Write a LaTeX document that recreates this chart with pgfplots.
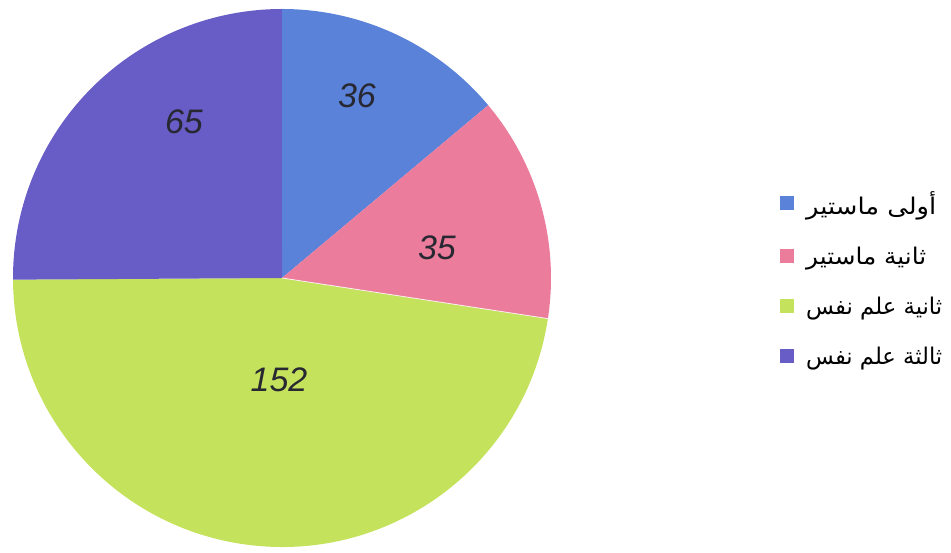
\documentclass[border=0pt]{standalone}
\usepackage{graphicx}
\usepackage{pgfplots}
\pgfplotsset{compat=1.18}
\usepackage{pgfplotstable}
\usepackage{fontspec}
\setmainfont{Liberation Sans}
\newfontfamily\arabicfont[Script=Arabic]{DejaVu Sans}
\TeXXeTstate=1

\definecolor{cblue}{RGB}{90,130,216}
\definecolor{cpink}{RGB}{236,124,156}
\definecolor{cgreen}{RGB}{196,226,92}
\definecolor{cpurple}{RGB}{104,92,198}
\definecolor{ink}{RGB}{40,40,50}

% slice sizes (as drawn) and the handwritten labels
\pgfplotstableread{
value label lx  ly
36    36    357 457
35    35    437 305
123   152   279 173
65    65    184 431
}\piedata

\pgfplotstablegetelem{0}{value}\of\piedata \let\vA\pgfplotsretval
\pgfplotstablegetelem{1}{value}\of\piedata \let\vB\pgfplotsretval
\pgfplotstablegetelem{2}{value}\of\piedata \let\vC\pgfplotsretval
\pgfplotstablegetelem{3}{value}\of\piedata \let\vD\pgfplotsretval
\pgfmathsetmacro\total{\vA+\vB+\vC+\vD}
\pgfmathsetmacro\aA{90}
\pgfmathsetmacro\aB{\aA-\vA/\total*360}
\pgfmathsetmacro\aC{\aB-\vB/\total*360}
\pgfmathsetmacro\aD{\aC-\vC/\total*360}
\pgfmathsetmacro\aE{\aD-\vD/\total*360}

\newcommand\legtext[2]{\resizebox{#1}{\height}{\arabicfont #2}}

\begin{document}
\begin{tikzpicture}
\begin{axis}[
  x=1pt, y=1pt, xmin=0, xmax=951, ymin=0, ymax=553,
  hide axis, clip=false, disabledatascaling,
  legend image code/.code={\fill[#1] (0pt,-7pt) rectangle (14pt,7pt);},
  legend style={at={(axis cs:780,364)}, anchor=north west, draw=none, fill=none,
    inner sep=0pt, row sep=27pt, column sep=10pt,
    font=\fontsize{23}{27}\selectfont},
  legend cell align=left,
]
\fill[cblue]   (axis cs:282,275) -- ++(\aA:269pt) arc[start angle=\aA, end angle=\aB, radius=269pt] -- cycle;
\fill[cpink]   (axis cs:282,275) -- ++(\aB:269pt) arc[start angle=\aB, end angle=\aC, radius=269pt] -- cycle;
\fill[cgreen]  (axis cs:282,275) -- ++(\aC:269pt) arc[start angle=\aC, end angle=\aD, radius=269pt] -- cycle;
\fill[cpurple] (axis cs:282,275) -- ++(\aD:269pt) arc[start angle=\aD, end angle=\aE, radius=269pt] -- cycle;
\draw[white!85!cpink, line width=0.8pt] (axis cs:282,275) -- ++(\aC:269pt);

\addplot[forget plot, only marks, mark=none, nodes near coords={\pgfplotspointmeta},
  point meta=explicit symbolic,
  nodes near coords style={anchor=center, text=ink, font=\fontsize{34}{34}\selectfont\itshape}]
  table[x=lx, y=ly, meta=label]{\piedata};

\addlegendimage{fill=cblue, draw=none}
\addlegendentry{\legtext{130pt}{\beginR أولى ماستير\endR}}
\addlegendimage{fill=cpink, draw=none}
\addlegendentry{\legtext{120pt}{\beginR ثانية ماستير\endR}}
\addlegendimage{fill=cgreen, draw=none}
\addlegendentry{\legtext{136pt}{\beginR ثانية علم نفس\endR}}
\addlegendimage{fill=cpurple, draw=none}
\addlegendentry{\legtext{136pt}{\beginR ثالثة علم نفس\endR}}
\end{axis}
\pgfresetboundingbox
\path (current axis.south west) rectangle (current axis.north east);
\end{tikzpicture}
\end{document}
